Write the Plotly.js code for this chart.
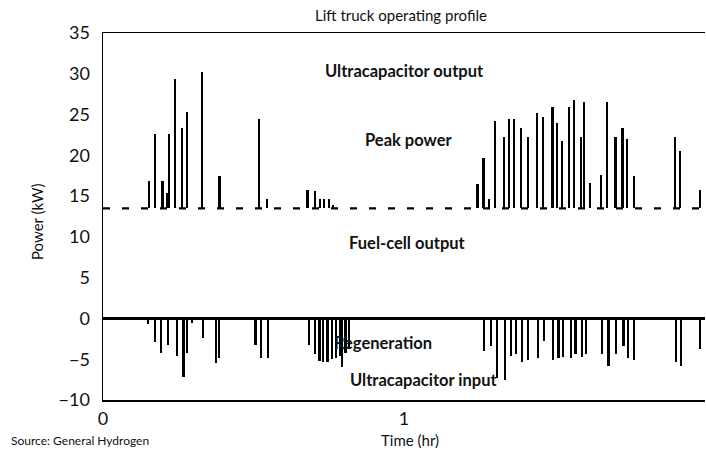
<!DOCTYPE html>
<html>
<head>
<meta charset="utf-8">
<script src="https://cdn.plot.ly/plotly-3.0.1.min.js"></script>
<style>html,body{margin:0;padding:0;background:#fff}#chart{width:706px;height:451px}</style>
</head>
<body>
<div id="chart"></div>
<script>
// Fuel-cell steady output level (kW)
const fuelCellLevel = 13.5;

// Ultracapacitor output spikes (peak power above fuel-cell level)
const peakTimes = [0.153,0.173,0.198,0.212,0.219,0.240,0.262,0.280,0.329,0.387,0.519,0.544,
  0.679,0.704,0.721,0.735,0.752,0.765,
  1.244,1.264,1.283,1.302,1.333,1.349,1.366,1.388,1.411,1.443,1.461,1.493,1.509,1.524,1.548,
  1.566,1.587,1.599,1.618,1.654,1.675,1.703,1.726,1.742,1.764,1.900,1.917,1.983];
const peakPower = [16.9,22.6,16.8,15.4,22.6,29.4,23.3,25.3,30.2,17.5,24.4,14.6,
  15.8,15.6,14.7,14.6,14.6,13.9,
  16.5,19.7,14.6,24.2,22.3,24.5,24.4,23.4,22.3,25.2,24.7,25.9,24.0,21.7,25.9,
  26.8,22.2,26.6,16.6,17.6,26.5,22.3,23.4,22.0,17.5,22.2,20.5,15.8];

// Regeneration spikes (ultracapacitor input, below zero)
const regenTimes = [0.150,0.173,0.193,0.217,0.245,0.267,0.280,0.295,0.331,0.375,0.386,
  0.507,0.525,0.547,
  0.684,0.704,0.719,0.732,0.746,0.760,0.774,0.787,0.795,0.806,0.818,
  1.266,1.289,1.308,1.336,1.355,1.371,1.393,1.413,1.446,1.466,1.496,1.513,1.529,1.554,1.570,
  1.592,1.604,1.657,1.679,1.704,1.729,1.745,1.765,1.904,1.920,1.983];
const regenPower = [-0.7,-2.9,-4.2,-3.3,-4.6,-7.2,-4.2,-0.6,-2.4,-5.5,-4.8,
  -3.3,-4.9,-4.9,
  -3.2,-4.4,-5.2,-5.3,-5.3,-5.0,-4.8,-4.6,-6.0,-4.2,-3.8,
  -4.0,-3.4,-7.3,-7.6,-4.6,-4.4,-5.3,-5.1,-4.9,-2.8,-5.1,-4.8,-4.7,-4.9,-4.4,
  -4.7,-4.4,-4.4,-5.8,-4.4,-3.4,-4.9,-5.1,-5.3,-5.8,-3.7];

const timeRange = [0, 2];
const yTickVals = [-10,-5,0,5,10,15,20,25,30,35];
const xTickVals = [0,1,2];

const FONT = "Lato, 'Open Sans', sans-serif";

const traces = [
  {
    type: 'scatter', mode: 'lines',
    x: timeRange, y: [fuelCellLevel, fuelCellLevel],
    line: {color: '#000', width: 2.2, dash: '7px,12px'},
    hoverinfo: 'skip', showlegend: false
  },
  {
    type: 'bar', x: peakTimes,
    y: peakPower.map(v => v - fuelCellLevel),
    base: fuelCellLevel, width: 0.0075,
    marker: {color: '#000', line: {width: 0}},
    showlegend: false
  },
  {
    type: 'bar', x: regenTimes, y: regenPower, base: 0, width: 0.0075,
    marker: {color: '#000', line: {width: 0}},
    showlegend: false
  }
];

const W = 706, H = 451, L = 103, R = 1, T = 33, B = 51;
const pw = W - L - R, ph = H - T - B;
const px = x => (x - L) / pw;
const py = y => (H - B - y) / ph;

function ann(text, x, y, size, weight, extra) {
  return Object.assign({
    text: text, xref: 'paper', yref: 'paper', x: px(x), y: py(y),
    xanchor: 'center', yanchor: 'middle', showarrow: false,
    font: {family: FONT, size: size, color: '#111', weight: weight}
  }, extra || {});
}

const layout = {
  width: W, height: H,
  margin: {l: L, r: R, t: T, b: B, pad: 0},
  paper_bgcolor: '#fff', plot_bgcolor: '#fff',
  barmode: 'overlay', bargap: 0,
  showlegend: false,
  xaxis: {
    range: timeRange, tickvals: xTickVals, ticktext: ['0','1','2'],
    showgrid: false, zeroline: false, showline: true, mirror: true,
    linecolor: '#000', linewidth: 1.5, ticks: '', ticklabelstandoff: 2,
    tickfont: {family: FONT, size: 18, color: '#111'}
  },
  yaxis: {
    range: [-10, 35], tickvals: yTickVals,
    showgrid: false, zeroline: true, zerolinecolor: '#000', zerolinewidth: 2.5,
    showline: true, linecolor: '#000', linewidth: 1.5, ticks: '', ticklabelstandoff: 8,
    tickfont: {family: FONT, size: 18, color: '#111'}
  },
  annotations: [
    ann('Lift truck operating profile', 401, 15, 15, 400),
    ann('Ultracapacitor output', 404, 71, 16.5, 700),
    ann('Peak power', 408, 140, 16.5, 700),
    ann('Fuel-cell output', 407, 243, 16.5, 700),
    ann('Regeneration', 383, 343, 16.5, 700),
    ann('Ultracapacitor input', 424, 380, 16.5, 700),
    ann('Time (hr)', 410, 440, 15, 400),
    ann('Source: General Hydrogen', 80, 440, 12, 400),
    ann('Power (kW)', 37, 222, 15, 400, {textangle: -90})
  ]
};

Plotly.newPlot('chart', traces, layout, {staticPlot: true, displayModeBar: false});
</script>
</body>
</html>
